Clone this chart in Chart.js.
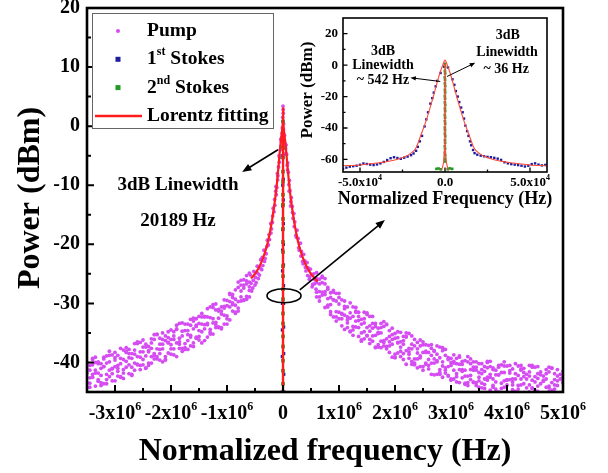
<!DOCTYPE html>
<html>
<head>
<meta charset="utf-8">
<script src="https://cdn.jsdelivr.net/npm/chart.js@4.4.1/dist/chart.umd.min.js"></script>
<style>
  body { margin: 0; background: #fff; }
  #wrap { position: relative; width: 608px; height: 473px; }
  #mainChart { position: absolute; left: 0; top: 0; }
  #insetChart { position: absolute; left: 290px; top: 10px; }
</style>
</head>
<body>
<div id="wrap">
  <canvas id="mainChart" width="608" height="473"></canvas>
  <canvas id="insetChart" width="275" height="205"></canvas>
</div>
<script>
// ---- pump wings (frequency in units of 10^6 Hz, power in dBm) ----
const pumpFreq = [
  -3.5,-3.45,-3.4,-3.35,-3.3,-3.25,-3.2,-3.15,-3.1,-3.05,
  -3,-2.95,-2.9,-2.85,-2.8,-2.75,-2.7,-2.65,-2.6,-2.55,
  -2.5,-2.45,-2.4,-2.35,-2.3,-2.25,-2.2,-2.15,-2.1,-2.05,
  -2,-1.95,-1.9,-1.85,-1.8,-1.75,-1.7,-1.65,-1.6,-1.55,
  -1.5,-1.45,-1.4,-1.35,-1.3,-1.25,-1.2,-1.15,-1.1,-1.05,
  -1,-0.95,-0.9,-0.85,-0.8,-0.75,-0.7,-0.65,-0.6,
  0.6,0.65,0.7,0.75,0.8,0.85,0.9,0.95,
  1,1.05,1.1,1.15,1.2,1.25,1.3,1.35,1.4,1.45,
  1.5,1.55,1.6,1.65,1.7,1.75,1.8,1.85,1.9,1.95,
  2,2.05,2.1,2.15,2.2,2.25,2.3,2.35,2.4,2.45,
  2.5,2.55,2.6,2.65,2.7,2.75,2.8,2.85,2.9,2.95,
  3,3.05,3.1,3.15,3.2,3.25,3.3,3.35,3.4,3.45,
  3.5,3.55,3.6,3.65,3.7,3.75,3.8,3.85,3.9,3.95,
  4,4.05,4.1,4.15,4.2,4.25,4.3,4.35,4.4,4.45,
  4.5,4.55,4.6,4.65,4.7,4.75,4.8,4.85,4.9,4.95,
  5
];
const pumpPowerA = [
  -40.1,-42.6,-39.3,-41.3,-43.2,-40.2,-43.6,-40.1,-38.1,-41.9,
  -40.7,-38.8,-42.4,-37.9,-40.8,-39.2,-42.2,-37.9,-39.0,-40.5,
  -36.2,-38.9,-37.3,-40.1,-36.1,-39.0,-36.9,-35.0,-39.5,-36.7,
  -37.7,-34.8,-36.7,-33.4,-37.6,-34.6,-37.8,-33.7,-34.3,-35.9,
  -32.2,-34.8,-32.2,-35.7,-32.4,-30.7,-33.6,-32.5,-30.6,-33.5,
  -30.4,-28.5,-31.3,-29.3,-26.4,-28.9,-29.5,-26.2,-26.4,
  -24.8,-28.0,-25.4,-28.0,-30.6,-28.2,-32.3,-29.6,
  -28.3,-32.6,-32.0,-30.6,-34.7,-30.6,-34.0,-32.9,-36.4,-32.6,
  -34.1,-36.1,-32.2,-35.4,-34.2,-37.5,-33.9,-37.3,-35.6,-34.2,
  -39.1,-36.7,-38.1,-35.6,-38.0,-35.1,-39.8,-37.2,-40.9,-37.2,
  -38.3,-40.3,-37.1,-40.1,-38.0,-42.0,-39.2,-38.0,-41.3,-40.7,
  -39.3,-42.8,-40.2,-39.1,-42.6,-41.3,-39.0,-42.2,-43.4,-40.8,
  -41.7,-43.5,-41.5,-42.5,-44.7,-41.2,-43.3,-42.1,-44.4,-43.1,
  -40.6,-45.3,-42.8,-41.9,-43.9,-41.3,-45.1,-42.8,-43.8,-40.8,
  -42.4,-44.9,-45.7,-43.0,-41.9,-44.0,-40.9,-45.6,-43.9,-42.8,
  -45.1
];
const pumpPowerB = [
  -43.4,-41.3,-42.0,-44.0,-40.2,-42.2,-40.7,-42.9,-41.3,-38.7,
  -43.1,-40.5,-39.3,-41.2,-38.3,-41.9,-39.3,-40.1,-36.8,-38.2,
  -40.4,-41.0,-38.0,-36.7,-38.5,-35.2,-39.6,-37.7,-36.3,-38.4,
  -34.5,-37.7,-39.0,-35.9,-34.7,-37.8,-34.6,-35.7,-36.7,-32.6,
  -34.6,-33.5,-36.3,-32.3,-34.4,-33.3,-30.1,-34.0,-34.3,-30.5,
  -32.6,-30.6,-29.0,-31.5,-29.7,-26.9,-27.4,-29.3,-27.8,
  -26.5,-29.6,-26.5,-26.7,-29.2,-31.9,-28.1,-28.3,
  -32.6,-31.7,-30.9,-34.1,-32.5,-35.4,-30.7,-32.2,-35.0,-31.5,
  -35.4,-36.8,-34.2,-33.4,-37.0,-36.4,-33.1,-36.0,-37.2,-35.3,
  -38.6,-34.8,-37.4,-36.9,-35.7,-39.3,-40.3,-36.1,-39.4,-40.7,
  -37.0,-38.3,-41.1,-37.0,-39.4,-39.9,-37.4,-42.5,-41.8,-39.5,
  -40.5,-41.3,-39.3,-43.4,-41.5,-39.7,-43.9,-42.9,-39.9,-41.3,
  -44.2,-40.2,-42.8,-39.8,-42.0,-44.2,-41.3,-45.0,-41.7,-39.9,
  -43.8,-42.9,-41.1,-44.9,-40.6,-43.8,-42.4,-45.7,-41.6,-43.0,
  -44.7,-40.7,-43.6,-42.3,-45.3,-41.6,-44.7,-42.9,-41.2,-46.0,
  -43.4
];
const pumpPowerC = [
  -41.8,-44.2,-40.4,-40.0,-41.8,-43.9,-39.4,-38.9,-42.4,-41.0,
  -39.6,-42.3,-40.2,-42.7,-37.5,-38.5,-40.8,-36.8,-40.3,-41.2,
  -38.2,-36.9,-40.1,-39.0,-35.3,-37.7,-38.5,-36.1,-39.0,-34.8,
  -37.0,-36.1,-34.4,-37.6,-38.1,-33.5,-36.3,-37.2,-33.0,-33.9,
  -36.2,-31.7,-33.6,-33.6,-30.6,-35.2,-34.1,-31.3,-31.8,-32.0,
  -29.5,-32.8,-30.2,-27.7,-31.3,-29.6,-26.0,-26.7,-28.9,
  -28.1,-26.7,-28.1,-30.7,-27.6,-30.2,-29.4,-32.3,
  -31.5,-29.4,-34.4,-32.3,-31.6,-33.9,-31.5,-35.6,-33.5,-34.8,
  -31.9,-33.8,-36.4,-37.5,-34.9,-34.1,-36.3,-33.5,-38.3,-36.9,
  -35.9,-38.4,-34.9,-38.5,-40.3,-37.6,-36.9,-40.4,-37.7,-39.2,
  -40.7,-37.0,-39.5,-38.8,-42.1,-38.6,-41.2,-40.6,-37.8,-42.2,
  -43.0,-39.8,-42.4,-41.2,-40.3,-43.5,-42.3,-40.2,-41.3,-43.9,
  -43.1,-41.9,-44.4,-40.9,-40.7,-42.8,-45.0,-40.8,-40.4,-44.2,
  -42.9,-41.8,-44.6,-42.8,-45.4,-40.5,-41.7,-44.3,-40.5,-44.3,
  -45.4,-42.7,-41.6,-45.1,-44.2,-40.8,-43.4,-44.5,-42.3,-45.5,
  -41.5
];
const pumpPowerD = [
  -41.1,-43.5,-39.5,-41.8,-39.9,-43.4,-40.7,-42.0,-38.8,-43.1,
  -39.2,-41.0,-37.6,-41.8,-39.8,-37.8,-42.0,-38.6,-40.4,-36.6,
  -39.5,-37.4,-40.5,-37.6,-39.4,-35.3,-37.8,-39.9,-35.5,-36.6,
  -38.6,-35.5,-33.7,-36.9,-35.5,-37.5,-33.5,-35.4,-32.5,-35.7,
  -33.4,-36.7,-32.3,-33.4,-34.9,-30.2,-33.2,-31.0,-34.1,-30.8,
  -32.1,-28.3,-29.9,-31.7,-27.3,-27.9,-29.4,-25.3,-27.2,
  -28.9,-25.9,-28.6,-25.8,-30.3,-29.0,-27.8,-33.0,
  -30.1,-31.8,-29.6,-33.3,-34.8,-32.2,-31.3,-34.1,-32.7,-36.0,
  -31.6,-34.7,-33.4,-37.4,-35.1,-33.4,-36.6,-37.7,-34.6,-36.1,
  -39.2,-35.8,-36.5,-39.5,-35.6,-38.2,-35.5,-39.4,-38.4,-36.2,
  -41.3,-38.1,-40.5,-37.6,-40.1,-37.2,-42.0,-39.9,-38.8,-42.3,
  -40.0,-38.7,-43.3,-40.3,-39.8,-42.3,-43.4,-39.4,-40.8,-43.4,
  -40.2,-41.2,-43.7,-40.0,-42.5,-40.9,-44.5,-42.1,-43.5,-40.6,
  -45.0,-41.4,-43.3,-40.2,-44.5,-42.8,-41.0,-45.5,-42.3,-44.4,
  -40.8,-44.0,-42.1,-45.5,-42.8,-44.9,-41.0,-43.8,-46.1,-42.0,
  -43.3
];
const pumpPowerE = [
  -44.2,-40.5,-42.5,-39.1,-42.9,-41.0,-39.1,-43.6,-39.9,-41.1,
  -38.3,-41.5,-42.5,-39.5,-38.1,-40.4,-38.5,-41.3,-36.5,-39.1,
  -37.4,-40.9,-38.2,-36.0,-38.8,-39.4,-35.9,-36.9,-39.6,-35.8,
  -36.1,-38.7,-34.3,-36.5,-33.3,-36.8,-35.3,-32.7,-37.3,-33.7,
  -35.6,-32.3,-34.3,-30.9,-35.2,-32.6,-31.1,-34.1,-31.3,-29.4,
  -33.5,-29.7,-28.5,-30.3,-30.8,-26.1,-26.9,-28.8,-24.9,
  -25.8,-28.9,-25.6,-28.5,-27.3,-31.4,-29.4,-31.4,
  -29.0,-33.8,-30.5,-32.8,-29.9,-34.5,-33.0,-31.5,-36.2,-33.3,
  -35.5,-32.2,-35.5,-33.9,-37.4,-35.0,-37.2,-33.6,-36.5,-39.1,
  -35.1,-36.6,-39.0,-36.3,-35.0,-38.6,-37.7,-40.1,-36.6,-38.9,
  -36.5,-40.1,-38.3,-42.0,-38.1,-39.7,-41.7,-37.5,-40.9,-39.2,
  -42.8,-40.1,-41.9,-38.9,-41.2,-43.7,-39.9,-41.2,-43.3,-39.9,
  -42.5,-44.3,-40.7,-43.0,-39.8,-43.9,-42.1,-40.5,-45.1,-41.7,
  -43.0,-40.5,-43.8,-45.1,-42.2,-41.1,-43.6,-42.0,-45.0,-40.5,
  -43.3,-41.9,-45.6,-43.2,-41.2,-44.3,-45.1,-41.9,-43.1,-46.0,
  -42.5
];
// pump points around the peak
const pumpCoreFreq = [
  0,0.004,-0.006,0.01,-0.012,0.018,-0.022,0.028,-0.03,0.036,
  -0.04,0.045,-0.05,0.055,-0.06,0.065,-0.07,0.075,-0.08,0.085,
  -0.09,0.095,-0.1,0.105,-0.11,0.115,-0.12,0.125,-0.13,0.14,
  -0.145,0.15,-0.16,0.165,-0.175,0.18,-0.19,0.195,-0.205,0.21,
  -0.22,0.23,-0.24,0.25,-0.26,0.27,-0.28,0.29,-0.3,0.31,
  -0.32,0.33,-0.34,0.35,-0.36,0.37,-0.38,0.39,-0.4,0.41,
  -0.42,0.43,-0.44,0.45,-0.46,0.47,-0.48,0.49,-0.5,0.51,
  -0.52,0.53,-0.54,0.55,-0.56,0.57,-0.58,0.59,
  0.002,-0.002,0.008,-0.016,0.024,-0.034,0.05,-0.065,0.08,-0.095,
  0.11,-0.125,0.135,-0.15,0.17,-0.185,0.2,-0.215,0.24,-0.25,
  0.28,-0.29,0.32,-0.33,0.36,-0.37,0.4,-0.41,0.44,-0.45,
  0.48,-0.49,0.52,-0.53,0.56,-0.57
];
const pumpCorePower = [
  3.4,2.2,1.5,0.4,-0.3,-1.4,-1.9,-1.6,-2.6,-2.9,
  -2.2,-3.8,-4.0,-3.2,-5.3,-4.8,-5.0,-6.6,-6.9,-6.2,
  -8.4,-7.8,-8.0,-9.9,-10.4,-9.2,-11.6,-10.9,-11.0,-12.8,
  -13.4,-12.1,-14.5,-13.6,-13.9,-15.6,-16.3,-14.8,-17.4,-16.2,
  -16.5,-18.5,-19.2,-17.6,-20.1,-19.0,-19.3,-21.0,-21.6,-19.8,
  -22.4,-21.2,-21.0,-22.9,-23.6,-21.7,-24.3,-22.8,-22.6,-24.5,
  -25.2,-23.1,-25.8,-24.0,-23.7,-25.9,-26.5,-24.2,-26.9,-25.1,
  -24.6,-26.8,-27.4,-25.0,-27.9,-26.0,-25.2,-27.6,
  2.8,0.8,-0.6,-1.2,-2.4,-3.4,-4.6,-6.1,-7.4,-9.1,
  -11.0,-10.2,-13.5,-12.4,-14.6,-15.2,-17.0,-18.1,-18.8,-18.4,
  -20.6,-20.4,-22.0,-22.9,-23.3,-22.2,-23.9,-24.0,-25.3,-24.9,
  -25.5,-25.6,-27.2,-26.1,-26.7,-26.6
];
const pumpFitFreq = [-0.57,-0.5,-0.44,-0.38,-0.32,-0.27,-0.22,-0.18,-0.14,-0.11,-0.08,-0.05,-0.03,-0.015,0,
  0.015,0.03,0.05,0.08,0.11,0.14,0.18,0.22,0.27,0.32,0.38,0.44,0.5,0.56,0.62];
const pumpFitPower = [-25.8,-25.0,-24.1,-22.9,-21.3,-19.6,-17.3,-15.0,-12.3,-9.8,-6.8,-3.6,-1.9,-0.6,0.6,
  -0.6,-1.9,-3.6,-6.8,-9.8,-12.3,-15.0,-17.3,-19.6,-21.3,-22.9,-24.1,-25.0,-25.7,-26.3];

// ---- Stokes lines (frequency in Hz) ----
const stokes1Freq = [-60000,-58000,-56000,-54000,-52000,-50000,-48000,-46000,-44000,-42000,
  -40000,-38000,-36000,-34000,-32000,-30000,-28000,-26000,-24000,-22000,
  -20000,-18500,-17000,-16000,-14800,-13500,-12000,-11000,-10000,-8600,
  -7500,-6600,-5500,-4600,-2600,-600,
  1800,4400,5500,6400,7500,8400,9500,10400,11200,12000,
  13000,13800,14700,15400,16500,17400,19000,21000,23000,25000,
  27000,29000,31000,33000,35000,37000,39000,41000,43000,45000,
  47000,49000,51000,53000,55000,57000,59000];
const stokes1Power = [-66.0,-65.2,-64.6,-64.3,-64.0,-63.4,-62.6,-62.9,-63.3,-63.6,
  -63.2,-62.5,-61.6,-60.4,-59.2,-58.6,-59.1,-59.6,-58.9,-58.2,
  -57.3,-56.2,-54.5,-52.0,-48.5,-45.0,-39.0,-34.5,-30.0,-24.5,
  -21.0,-17.5,-13.5,-10.0,-5.0,-1.0,
  -1.5,-9.0,-12.5,-16.5,-20.0,-23.5,-27.0,-30.0,-34.0,-38.5,
  -42.0,-45.0,-48.5,-51.0,-54.0,-56.0,-57.0,-57.6,-58.0,-58.4,
  -58.6,-59.0,-59.5,-60.3,-61.8,-62.5,-63.0,-63.3,-63.6,-64.0,
  -64.5,-64.0,-63.0,-62.5,-63.3,-63.8,-63.5];
const stokes1FitFreq = [-60000,-50000,-40000,-30000,-24000,-20000,-17000,-14000,-11000,-9000,-7000,-5000,-3000,-1500,0,
  1500,3000,5000,7000,9000,11000,14000,17000,20000,24000,30000,40000,50000,60000];
const stokes1FitPower = [-64,-63.5,-62.3,-60.5,-58.5,-56,-52.5,-44,-35,-28,-20.5,-12.5,-5,-0.5,3.2,
  -0.5,-5,-12.5,-20.5,-28,-35,-44,-52.5,-56,-58.5,-60.5,-62.3,-63.5,-64];

const stokes2Freq = [-80,60,-40,90,-120,30,-60,110,-20,70,-100,40,-70,120,-30,80,
  -110,50,-50,100,-90,20,-60,130,-10,70,-120,40,-80,90,-40,60,
  -5000,-3800,-2500,1600,2800,4200];
const stokes2Power = [0.8,-1.2,-3.6,-5.3,-7.7,-9.4,-11.6,-13.3,-15.7,-17.4,-19.6,-21.3,-23.7,-25.4,-27.6,-29.3,
  -31.7,-33.4,-35.6,-37.3,-39.7,-41.4,-43.6,-45.3,-47.7,-49.4,-51.6,-53.3,-55.7,-57.4,-59.6,-61.3,
  -66.0,-65.8,-66.3,-66.2,-65.7,-66.0];
const stokes2FitFreq = [-2000,-800,-300,-100,-30,0,30,100,300,800,2000];
const stokes2FitPower = [-67,-62,-54,-44,-30,1,-30,-44,-54,-62,-67];

// ---- ticks ----
const mainXTicks = [-3, -2, -1, 0, 1, 2, 3, 4, 5];
const mainXLabels = ['-3x10^{6}', '-2x10^{6}', '-1x10^{6}', '0', '1x10^{6}', '2x10^{6}', '3x10^{6}', '4x10^{6}', '5x10^{6}'];
const mainXMinor = [-2.5, -1.5, -0.5, 0.5, 1.5, 2.5, 3.5, 4.5];
const mainYTicks = [20, 10, 0, -10, -20, -30, -40];
const mainYMinor = [15, 5, -5, -15, -25, -35];
const insetXTicks = [-50000, 0, 50000];
const insetXLabels = ['-5.0x10^{4}', '0.0', '5.0x10^{4}'];
const insetXMinor = [-25000, 25000];
const insetYTicks = [20, 0, -20, -40, -60];
const insetYMinor = [10, -10, -30, -50];

const SERIF = '"Liberation Serif", "Times New Roman", serif';
const PUMP = '#d54cf2', BLUE = '#1d1d9e', GREEN = '#239a23', RED = '#ff1c1c';

function pairs(xs, ys, k) {
  return xs.map((v, i) => ({ x: v * (k || 1), y: ys[i] }));
}

const pumpPoints = [];
[pumpPowerA, pumpPowerB, pumpPowerC, pumpPowerD, pumpPowerE].forEach(arr => {
  pumpPoints.push(...pairs(pumpFreq, arr));
});
pumpPoints.push(...pairs(pumpCoreFreq, pumpCorePower));

// text with ^{...} superscripts
function drawRich(ctx, text, x, y, size, align) {
  const parts = [];
  const re = /\^\{([^}]*)\}/g;
  let last = 0, m;
  while ((m = re.exec(text))) {
    if (m.index > last) parts.push({ t: text.slice(last, m.index), sup: false });
    parts.push({ t: m[1], sup: true });
    last = re.lastIndex;
  }
  if (last < text.length) parts.push({ t: text.slice(last), sup: false });
  const supSize = Math.round(size * 0.62);
  let w = 0;
  parts.forEach(p => {
    ctx.font = 'bold ' + (p.sup ? supSize : size) + 'px ' + SERIF;
    p.w = ctx.measureText(p.t).width;
    w += p.w;
  });
  let cx = align === 'center' ? x - w / 2 : align === 'right' ? x - w : x;
  ctx.textAlign = 'left';
  ctx.textBaseline = 'middle';
  parts.forEach(p => {
    ctx.font = 'bold ' + (p.sup ? supSize : size) + 'px ' + SERIF;
    ctx.fillText(p.t, cx, p.sup ? y - size * 0.36 : y);
    cx += p.w;
  });
}

function arrow(ctx, x1, y1, x2, y2, head, lw) {
  const a = Math.atan2(y2 - y1, x2 - x1);
  ctx.lineWidth = lw;
  ctx.beginPath();
  ctx.moveTo(x1, y1);
  ctx.lineTo(x2 - Math.cos(a) * head * 0.7, y2 - Math.sin(a) * head * 0.7);
  ctx.stroke();
  ctx.beginPath();
  ctx.moveTo(x2, y2);
  ctx.lineTo(x2 - head * Math.cos(a - 0.38), y2 - head * Math.sin(a - 0.38));
  ctx.lineTo(x2 - head * Math.cos(a + 0.38), y2 - head * Math.sin(a + 0.38));
  ctx.closePath();
  ctx.fill();
}

function drawTicks(ctx, a, xs, ys, vals, len, isX) {
  vals.forEach(v => {
    if (isX) {
      const px = xs.getPixelForValue(v);
      ctx.moveTo(px, a.bottom); ctx.lineTo(px, a.bottom - len);
    } else {
      const py = ys.getPixelForValue(v);
      ctx.moveTo(a.left, py); ctx.lineTo(a.left + len, py);
    }
  });
}

const mainDecor = {
  id: 'mainDecor',
  afterDraw(chart) {
    const { ctx, chartArea: a } = chart;
    const xs = chart.scales.x, ys = chart.scales.y;
    ctx.save();
    ctx.strokeStyle = '#000';
    ctx.fillStyle = '#000';

    ctx.lineWidth = 2;
    ctx.beginPath();
    drawTicks(ctx, a, xs, ys, mainXTicks, 7, true);
    drawTicks(ctx, a, xs, ys, mainXMinor, 4, true);
    drawTicks(ctx, a, xs, ys, mainYTicks, 7, false);
    drawTicks(ctx, a, xs, ys, mainYMinor, 4, false);
    ctx.stroke();

    ctx.lineWidth = 2.6;
    ctx.strokeRect(a.left, a.top, a.right - a.left, a.bottom - a.top);

    mainXTicks.forEach((v, i) => drawRich(ctx, mainXLabels[i], xs.getPixelForValue(v), a.bottom + 22, 20, 'center'));
    mainYTicks.forEach(v => drawRich(ctx, String(v), a.left - 7, ys.getPixelForValue(v), 20, 'right'));

    drawRich(ctx, 'Normalized frequency (Hz)', (a.left + a.right) / 2, a.bottom + 60, 32, 'center');
    ctx.save();
    ctx.translate(31, 198);
    ctx.rotate(-Math.PI / 2);
    drawRich(ctx, 'Power (dBm)', 0, 0, 32, 'center');
    ctx.restore();

    // annotations
    drawRich(ctx, '3dB Linewidth', xs.getPixelForValue(-1.875), ys.getPixelForValue(-10), 19, 'center');
    drawRich(ctx, '20189 Hz', xs.getPixelForValue(-1.875), ys.getPixelForValue(-16), 19, 'center');
    arrow(ctx, xs.getPixelForValue(-0.09), ys.getPixelForValue(-4.0), xs.getPixelForValue(-0.73), ys.getPixelForValue(-7.75), 10, 1.6);
    ctx.lineWidth = 1.6;
    ctx.beginPath();
    ctx.ellipse(xs.getPixelForValue(0.018), ys.getPixelForValue(-28.7), 17, 7, 0, 0, Math.PI * 2);
    ctx.stroke();
    arrow(ctx, xs.getPixelForValue(0.30), ys.getPixelForValue(-27.7), xs.getPixelForValue(1.82), ys.getPixelForValue(-15.9), 10, 1.6);

    // legend
    const lx = a.left + 5, ly = a.top + 5;
    ctx.fillStyle = '#fff';
    ctx.fillRect(lx, ly, 181, 115);
    ctx.strokeStyle = '#666';
    ctx.lineWidth = 1;
    ctx.strokeRect(lx + 0.5, ly + 0.5, 181, 115);
    [0, 1, 2, 3].forEach((di, i) => {
      const ds = chart.data.datasets[di];
      const ry = ly + 18 + i * 28.3;
      const mx = lx + 26;
      if (ds.showLine) {
        ctx.strokeStyle = ds.borderColor;
        ctx.lineWidth = 2.5;
        ctx.beginPath(); ctx.moveTo(lx + 3, ry); ctx.lineTo(lx + 50, ry); ctx.stroke();
      } else if (ds.pointStyle === 'rect') {
        ctx.fillStyle = ds.backgroundColor;
        ctx.fillRect(mx - 2.5, ry - 2.5, 5, 5);
      } else {
        ctx.fillStyle = ds.backgroundColor;
        ctx.beginPath(); ctx.arc(mx, ry, 2, 0, Math.PI * 2); ctx.fill();
      }
      ctx.fillStyle = '#000';
      drawRich(ctx, ds.label, lx + 55, ry, 19.5, 'left');
    });
    ctx.restore();
  }
};

const insetDecor = {
  id: 'insetDecor',
  afterDraw(chart) {
    const { ctx, chartArea: a } = chart;
    const xs = chart.scales.x, ys = chart.scales.y;
    ctx.save();
    ctx.strokeStyle = '#000';
    ctx.fillStyle = '#000';

    ctx.lineWidth = 1.3;
    ctx.beginPath();
    drawTicks(ctx, a, xs, ys, insetXTicks, 4.5, true);
    drawTicks(ctx, a, xs, ys, insetXMinor, 2.5, true);
    drawTicks(ctx, a, xs, ys, insetYTicks, 4.5, false);
    drawTicks(ctx, a, xs, ys, insetYMinor, 2.5, false);
    ctx.stroke();

    ctx.lineWidth = 1.6;
    ctx.strokeRect(a.left, a.top, a.right - a.left, a.bottom - a.top);

    insetXTicks.forEach((v, i) => drawRich(ctx, insetXLabels[i], xs.getPixelForValue(v), a.bottom + 11, 13, 'center'));
    insetYTicks.forEach(v => drawRich(ctx, String(v), a.left - 5, ys.getPixelForValue(v), 13, 'right'));

    drawRich(ctx, 'Normalized Frequency (Hz)', (a.left + a.right) / 2, a.bottom + 27, 18, 'center');
    ctx.save();
    ctx.translate(18, a.top + 72);
    ctx.rotate(-Math.PI / 2);
    drawRich(ctx, 'Power (dBm)', 0, 0, 17, 'center');
    ctx.restore();

    const t = (s, f, p) => drawRich(ctx, s, xs.getPixelForValue(f), ys.getPixelForValue(p), 14, 'center');
    t('3dB', -36500, 8.7);
    t('Linewidth', -36500, -0.4);
    t('~ 542 Hz', -36500, -9.9);
    t('3dB', 37000, 18.7);
    t('Linewidth', 36500, 7.9);
    t('~ 36 Hz', 36000, -2.9);
    arrow(ctx, xs.getPixelForValue(-2800), ys.getPixelForValue(-10.4), xs.getPixelForValue(-20400), ys.getPixelForValue(-8.0), 6, 1);
    arrow(ctx, xs.getPixelForValue(1200), ys.getPixelForValue(-7.2), xs.getPixelForValue(17800), ys.getPixelForValue(1.5), 6, 1);
    ctx.restore();
  }
};

const pointSet = (label, data, color, style, r, order) => ({
  label, data, backgroundColor: color, borderWidth: 0,
  pointStyle: style, pointRadius: r, order
});
const lineSet = (label, data, color, width, mode) => ({
  label, data, showLine: true, borderColor: color, borderWidth: width,
  pointRadius: 0, cubicInterpolationMode: mode, order: 0
});

new Chart(document.getElementById('mainChart'), {
  type: 'scatter',
  data: {
    datasets: [
      pointSet('Pump', pumpPoints, PUMP, 'circle', 1.9, 3),
      pointSet('1^{st} Stokes', pairs(stokes1Freq, stokes1Power, 1e-6), BLUE, 'rect', 2.3, 2),
      pointSet('2^{nd} Stokes', pairs(stokes2Freq, stokes2Power, 1e-6), GREEN, 'rect', 2.6, 1),
      lineSet('Lorentz fitting', pairs(pumpFitFreq, pumpFitPower), RED, 2.2, 'monotone'),
      lineSet('Lorentz fitting', pairs(stokes1FitFreq, stokes1FitPower, 1e-6), RED, 1.5, 'default'),
      lineSet('Lorentz fitting', pairs(stokes2FitFreq, stokes2FitPower, 1e-6), RED, 1.5, 'default')
    ]
  },
  options: {
    responsive: false,
    devicePixelRatio: 1,
    animation: false,
    events: [],
    layout: { padding: { left: 87, right: 45, top: 8, bottom: 81 } },
    plugins: { legend: { display: false }, tooltip: { enabled: false } },
    scales: {
      x: { type: 'linear', min: -3.5, max: 5, display: false },
      y: { type: 'linear', min: -45, max: 20, display: false }
    }
  },
  plugins: [mainDecor]
});

new Chart(document.getElementById('insetChart'), {
  type: 'scatter',
  data: {
    datasets: [
      pointSet('1^{st} Stokes', pairs(stokes1Freq, stokes1Power), BLUE, 'rect', 1.7, 2),
      pointSet('2^{nd} Stokes', pairs(stokes2Freq, stokes2Power), GREEN, 'rect', 1.9, 1),
      lineSet('Lorentz fitting', pairs(stokes1FitFreq, stokes1FitPower), '#ff4a3a', 1.1, 'monotone'),
      lineSet('Lorentz fitting', pairs(stokes2FitFreq, stokes2FitPower), '#ff4a3a', 1.1, 'default')
    ]
  },
  options: {
    responsive: false,
    devicePixelRatio: 1,
    animation: false,
    events: [],
    layout: { padding: { left: 53, right: 18, top: 8, bottom: 43 } },
    plugins: { legend: { display: false }, tooltip: { enabled: false } },
    scales: {
      x: { type: 'linear', min: -60000, max: 60000, display: false },
      y: { type: 'linear', min: -68, max: 30, display: false }
    }
  },
  plugins: [insetDecor]
});
</script>
</body>
</html>
